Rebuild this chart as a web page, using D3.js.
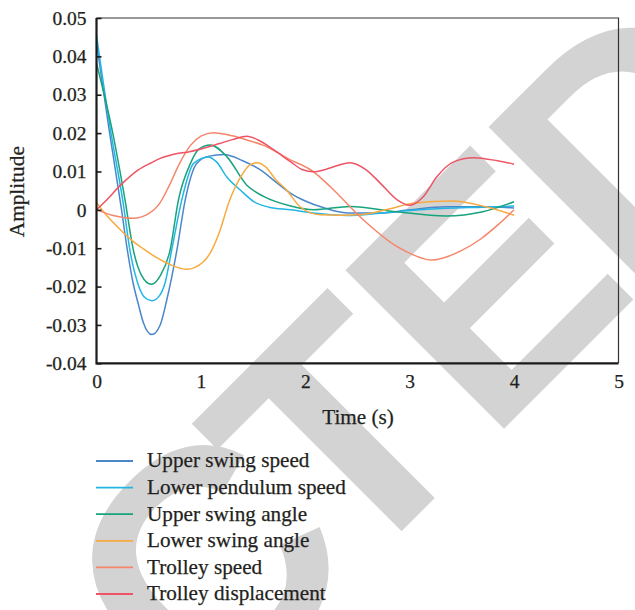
<!DOCTYPE html>
<html><head><meta charset="utf-8">
<script src="https://cdn.jsdelivr.net/npm/d3@7"></script>
<style>body{margin:0;background:#fff}svg{display:block}
.serif{font-family:"Liberation Serif","Tinos","Times New Roman","DejaVu Serif",serif;fill:#231f20;stroke:#231f20;stroke-width:0.25px}</style>
</head><body>
<svg id="chart" width="635" height="610"></svg>
<script>
// ---- data (time in s, amplitude) ----
const xTicks = [0, 1, 2, 3, 4, 5];
const yTicks = [-0.04, -0.03, -0.02, -0.01, 0, 0.01, 0.02, 0.03, 0.04, 0.05];
const seriesNames = ["Upper swing speed", "Lower pendulum speed", "Upper swing angle",
                     "Lower swing angle", "Trolley speed", "Trolley displacement"];

const upperSwingSpeed = [[0,0.0435],[0.12,0.021],[0.24,0.0],[0.29,-0.0095],[0.35,-0.019],[0.40,-0.0245],
  [0.45,-0.0295],[0.53,-0.0325],[0.61,-0.030],[0.673,-0.0235],[0.77,-0.0105],[0.85,0.0026],[0.96,0.0121],
  [1.08,0.0140],[1.22,0.0144],[1.4,0.0128],[1.57,0.0104],[1.72,0.0072],[1.86,0.0043],[2.0,0.0023],
  [2.17,0.0006],[2.4,-0.0008],[2.72,-0.0008],[3.0,0.0],[3.35,0.0008],[3.7,0.0008],[4.0,0.0005]];
const lowerPendulumSpeed = [[0,0.0455],[0.13,0.0215],[0.257,0.0015],[0.32,-0.0105],[0.4,-0.0195],
  [0.46,-0.0228],[0.53,-0.0237],[0.6,-0.0225],[0.657,-0.019],[0.72,-0.0105],[0.817,0.0026],[0.93,0.0121],
  [1.07,0.0138],[1.15,0.0125],[1.25,0.0085],[1.38,0.0051],[1.51,0.0021],[1.65,0.0007],[1.86,0.0],
  [2.1,-0.0009],[2.4,-0.0015],[2.72,-0.0009],[3.0,-0.0002],[3.35,0.0004],[3.7,0.0007],[4.0,0.001]];
const upperSwingAngle = [[0,0.0382],[0.152,0.0205],[0.273,0.0026],[0.353,-0.0105],[0.43,-0.017],
  [0.525,-0.0194],[0.61,-0.0172],[0.705,-0.0105],[0.785,0.0026],[0.9,0.0121],[0.98,0.0158],[1.09,0.0169],
  [1.25,0.0138],[1.44,0.0064],[1.6,0.0035],[1.86,0.001],[2.08,0.0],[2.43,0.0009],[2.87,-0.0005],
  [3.35,-0.0016],[3.7,-0.0005],[4.0,0.0021]];
const lowerSwingAngle = [[0,0.0019],[0.08,-0.0009],[0.233,-0.0053],[0.337,-0.0079],[0.45,-0.0102],
  [0.56,-0.0122],[0.7,-0.0142],[0.865,-0.0155],[0.944,-0.015],[1.088,-0.0113],[1.184,-0.0053],
  [1.265,0.0017],[1.38,0.0085],[1.47,0.0117],[1.54,0.0123],[1.62,0.0112],[1.72,0.0078],[1.82,0.0052],
  [1.95,0.0008],[2.14,-0.0013],[2.35,-0.0014],[2.55,-0.0012],[2.8,0.0002],[3.03,0.0017],[3.41,0.0023],
  [3.73,0.0008],[4.0,-0.0014]];
const trolleySpeed = [[0,0.0],[0.15,-0.0014],[0.35,-0.0022],[0.5,-0.001],[0.6,0.0015],[0.7,0.0065],
  [0.79,0.0118],[0.9,0.0168],[1.0,0.0192],[1.12,0.0201],[1.3,0.0193],[1.44,0.0182],[1.6,0.0168],
  [1.83,0.0134],[2.08,0.0099],[2.24,0.006],[2.56,-0.0027],[2.88,-0.0096],[3.04,-0.0118],[3.21,-0.0131],
  [3.49,-0.0107],[3.68,-0.0076],[3.85,-0.0038],[4.0,0.0]];
const trolleyDisplacement = [[0,0.0],[0.08,0.0021],[0.233,0.0065],[0.4,0.0104],[0.52,0.0122],[0.61,0.0134],
  [0.74,0.0145],[0.88,0.0151],[1.18,0.0173],[1.3,0.0183],[1.44,0.0192],[1.55,0.0182],[1.7,0.0156],
  [1.86,0.0125],[1.97,0.0105],[2.08,0.0099],[2.2,0.0106],[2.43,0.0123],[2.58,0.0105],[2.72,0.0069],
  [2.88,0.0026],[3.0,0.0012],[3.13,0.0034],[3.26,0.0086],[3.42,0.0125],[3.61,0.0136],[3.84,0.0128],
  [4.0,0.0119]];

const seriesData = [upperSwingSpeed, lowerPendulumSpeed, upperSwingAngle,
                    lowerSwingAngle, trolleySpeed, trolleyDisplacement];
const colors = ["#4a87c9", "#22b6e5", "#17a37b", "#f8aa42", "#f6866b", "#ee5465"];

// ---- drawing ----
const svg = d3.select("#chart");
svg.append("rect").attr("width", 635).attr("height", 610).attr("fill", "#fff");

// watermark (background decoration)
const wm = svg.append("g").attr("transform", "translate(418.2,514.6) rotate(-45)");
const wt = wm.append("text").text("RETRACTED")
  .style("font-family", "'Liberation Sans', Arial, sans-serif")
  .attr("font-weight", "bold").attr("font-size", 326).attr("fill", "#d3d3d3")
  .attr("dx", "0 0 0 0 0 0 -30 0 -15").attr("x", 0);
const ext = wt.node().getExtentOfChar(6);
wt.attr("x", -(ext.x + ext.width / 2));

const x = d3.scaleLinear().domain([0, 5]).range([96.5, 618.5]);
const y = d3.scaleLinear().domain([-0.04, 0.05]).range([363.3, 18]);

// frame top/right
svg.append("path")
  .attr("d", `M${x(0)},${y(0.05)}H${x(5)}V${y(-0.04)}`)
  .attr("fill", "none").attr("stroke", "#333").attr("stroke-width", 1.2);

// lines
const line = d3.line().x(d => x(d[0])).y(d => y(d[1])).curve(d3.curveMonotoneX);
svg.append("g").selectAll("path").data(seriesData).join("path")
  .attr("d", line).attr("fill", "none")
  .attr("stroke", (d, i) => colors[i]).attr("stroke-width", 1.5);

// axes lines
svg.append("path").attr("d", `M${x(0)},${y(0.05)}V${y(-0.04)}H${x(5)}`)
  .attr("fill", "none").attr("stroke", "#1a1a1a").attr("stroke-width", 2.2);

const fmt = d => d === 0 ? "0" : d.toFixed(2);
const yAxis = svg.append("g").attr("transform", `translate(${x(0)},0)`)
  .call(d3.axisLeft(y).tickValues(yTicks).tickSize(-5).tickPadding(10).tickFormat(fmt));
yAxis.attr("font-family", null).attr("font-size", null);
yAxis.select(".domain").remove();
yAxis.selectAll("line").attr("stroke", "#1a1a1a").attr("stroke-width", 1.6);
yAxis.selectAll("text").attr("class", "serif").attr("fill", null).attr("font-size", 19.5);

const xAxis = svg.append("g").attr("transform", `translate(0,${y(-0.04)})`)
  .call(d3.axisBottom(x).tickValues(xTicks).tickSize(0).tickPadding(11).tickFormat(d3.format("d")));
xAxis.attr("font-family", null).attr("font-size", null);
xAxis.select(".domain").remove();
xAxis.selectAll("text").attr("class", "serif").attr("fill", null).attr("font-size", 19.5);

// titles
svg.append("text").text("Amplitude").attr("class", "serif")
  .attr("transform", "translate(24,191.7) rotate(-90)")
  .attr("text-anchor", "middle").attr("font-size", 21.3);
svg.append("text").text("Time (s)").attr("class", "serif")
  .attr("x", (x(0) + x(5)) / 2 + 0.5).attr("y", 424)
  .attr("text-anchor", "middle").attr("font-size", 21.2);

// legend
const leg = svg.append("g").selectAll("g").data(seriesNames).join("g")
  .attr("transform", (d, i) => `translate(96,${461 + i * 26.6})`);
leg.append("line").attr("x1", 0).attr("x2", 37).attr("stroke", (d, i) => colors[i]).attr("stroke-width", 1.8);
leg.append("text").text(d => d).attr("class", "serif").attr("x", 51).attr("dy", "0.3em")
  .attr("font-size", 21.2);
</script>
</body></html>
